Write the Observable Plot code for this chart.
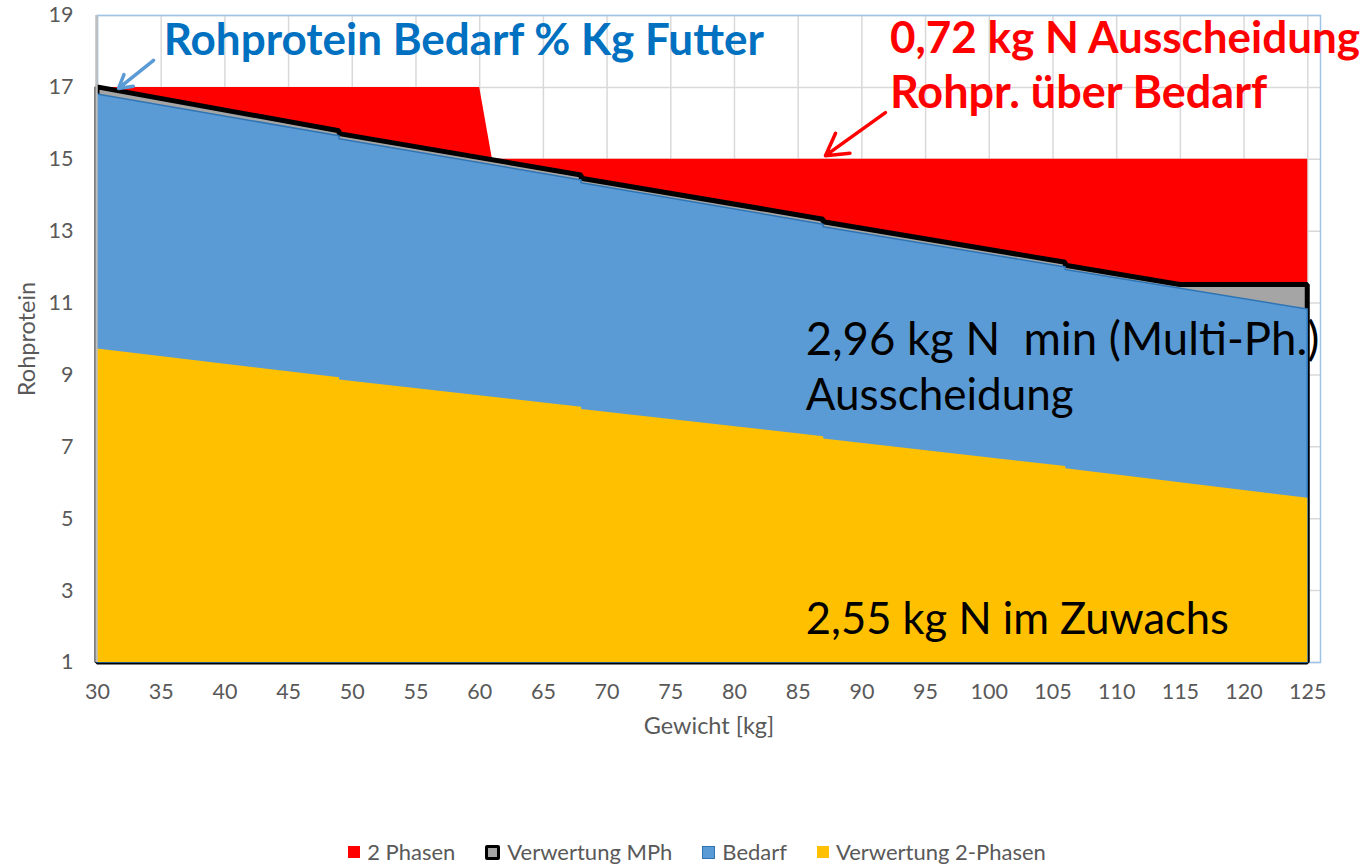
<!DOCTYPE html>
<html>
<head>
<meta charset="utf-8">
<script src="https://cdn.jsdelivr.net/npm/d3@7"></script>
<script src="https://cdn.jsdelivr.net/npm/@observablehq/plot@0.6"></script>
<style>
  body { margin: 0; background: #fff; font-family: Lato, "Open Sans", sans-serif; }
  #wrap { position: relative; width: 1366px; height: 865px; overflow: hidden; }
  #legend { position: absolute; top: 838px; left: 0; width: 1366px; display: flex; justify-content: center; padding-left: 28px; box-sizing: border-box;
            font-family: Lato, sans-serif; font-size: 22px; color: #595959; line-height: 28px; }
  .item { display: flex; align-items: center; margin: 0 15px; }
  .sw { margin-right: 7px; box-sizing: border-box; }
</style>
</head>
<body>
<div id="wrap"><div id="chart"></div><div id="legend"></div></div>
<script>
// ---- data ----
const seriesNames = ["2 Phasen", "Verwertung MPh", "Bedarf", "Verwertung 2-Phasen"];

const phasen2Weight = [30, 60, 61, 125];
const phasen2Value  = [17, 17, 15, 15];

const mphWeight = [30, 49, 49, 68, 68, 87, 87, 106, 106, 115, 125];
const mphValue  = [17.0, 15.78, 15.70, 14.55, 14.46, 13.32, 13.25, 12.12, 12.04, 11.5, 11.5];

const bedarfWeight = [30, 49, 49, 68, 68, 87, 87, 106, 106, 125];
const bedarfValue  = [16.8, 15.64, 15.56, 14.41, 14.33, 13.18, 13.11, 11.99, 11.92, 10.82];

const zuwachsWeight = [30, 49, 49, 68, 68, 87, 87, 106, 106, 125];
const zuwachsValue  = [9.72, 8.92, 8.86, 8.10, 8.04, 7.28, 7.22, 6.45, 6.39, 5.57];

const xTickValues = [30, 35, 40, 45, 50, 55, 60, 65, 70, 75, 80, 85, 90, 95, 100, 105, 110, 115, 120, 125];
const yTickValues = [1, 3, 5, 7, 9, 11, 13, 15, 17, 19];

const xTitle = "Gewicht [kg]";
const yTitle = "Rohprotein";

// annotations (text, weight, value)
const annText   = ["Rohprotein Bedarf % Kg Futter", "0,72 kg N Ausscheidung", "Rohpr. über Bedarf",
                   "2,96 kg N  min (Multi-Ph.)", "Ausscheidung", "2,55 kg N im Zuwachs"];
const annWeight = [35.2, 92.2, 92.2, 85.6, 85.6, 85.6];
const annValue  = [18.3, 18.36, 16.83, 9.96, 8.43, 2.17];

const colors = { red: "#FF0000", gray: "#A5A5A5", black: "#000000", blue: "#5B9BD5", blueLine: "#2E75B6", yellow: "#FFC000", titleBlue: "#0070C0" };

// ---- build tables ----
const toRows = (xs, ys) => xs.map((x, i) => ({x, y: ys[i]}));
const phasen2 = toRows(phasen2Weight, phasen2Value);
const mph = toRows(mphWeight, mphValue);
const bedarf = toRows(bedarfWeight, bedarfValue);
const zuwachs = toRows(zuwachsWeight, zuwachsValue);
const ann = annText.map((t, i) => ({t, x: annWeight[i], y: annValue[i]}));

const chart = Plot.plot({
  width: 1366,
  height: 800,
  marginLeft: 97,
  marginRight: 46,
  marginTop: 15,
  marginBottom: 138,
  x: {domain: [30, 126]},
  y: {domain: [1, 19]},
  style: {fontFamily: "Lato, sans-serif", fontSize: "21px", color: "#595959", overflow: "visible", background: "transparent"},
  marks: [
    Plot.gridX(xTickValues, {stroke: "#D9D9D9", strokeOpacity: 1, strokeWidth: 1.5}),
    Plot.gridY(yTickValues, {stroke: "#D9D9D9", strokeOpacity: 1, strokeWidth: 1.5}),
    Plot.frame({stroke: "#9DC3E6", strokeWidth: 1.5}),
    Plot.areaY(phasen2, {x: "x", y1: 1, y2: "y", fill: colors.red, curve: "linear"}),
    Plot.areaY(mph, {x: "x", y1: 1, y2: "y", fill: colors.gray, stroke: colors.black, strokeWidth: 5, strokeLinejoin: "miter"}),
    Plot.areaY(bedarf, {x: "x", y1: 1, y2: "y", fill: colors.blue, stroke: colors.blueLine, strokeWidth: 1.5}),
    Plot.areaY(zuwachs, {x: "x", y1: 1, y2: "y", fill: colors.yellow}),
    Plot.ruleX([30], {stroke: "#BFBFBF", strokeWidth: 2.5, dx: -1}),
    Plot.axisX(xTickValues, {tickSize: 0, tickPadding: 21, fontSize: 21.5, fill: "#595959", label: null}),
    Plot.axisY(yTickValues, {tickSize: 0, tickPadding: 24, fontSize: 21.5, fill: "#595959", label: null}),
    Plot.text([xTitle], {frameAnchor: "bottom", dy: 71, fontSize: 23.5, fill: "#595959"}),
    Plot.text([yTitle], {frameAnchor: "left", textAnchor: "middle", dx: -70, rotate: -90, fontSize: 23.5, fill: "#595959"}),
    Plot.arrow([0], {x1: () => 34.4, y1: () => 17.75, x2: () => 31.65, y2: () => 16.97, stroke: colors.blue, strokeWidth: 3.5, headLength: 14}),
    Plot.arrow([0], {x1: () => 91.85, y1: () => 16.30, x2: () => 87.14, y2: () => 15.1, stroke: colors.red, strokeWidth: 3.5, headLength: 14}),
    Plot.text(ann.slice(0, 1), {x: "x", y: "y", text: "t", textAnchor: "start", fontSize: 44, fontWeight: "bold", fill: colors.titleBlue}),
    Plot.text(ann.slice(1, 2), {x: "x", y: "y", text: "t", textAnchor: "start", fontSize: 44, fontWeight: "bold", fill: colors.red}),
    Plot.text(ann.slice(2, 3), {x: "x", y: "y", text: "t", textAnchor: "start", fontSize: 45, fontWeight: "bold", fill: colors.red}),
    Plot.text(ann.slice(3, 4), {x: "x", y: "y", text: "t", textAnchor: "start", fontSize: 45.5, fill: "#000"}),
    Plot.text(ann.slice(4, 5), {x: "x", y: "y", text: "t", textAnchor: "start", fontSize: 44, fill: "#000"}),
    Plot.text(ann.slice(5, 6), {x: "x", y: "y", text: "t", textAnchor: "start", fontSize: 43.5, fill: "#000"})
  ]
});
document.getElementById("chart").appendChild(chart);

// legend
const swatches = [
  {bg: colors.red, border: colors.red, size: 12},
  {bg: colors.gray, border: colors.black, bw: 3.5, size: 15},
  {bg: colors.blue, border: colors.blueLine, bw: 1.5, size: 13},
  {bg: colors.yellow, border: colors.yellow, size: 12}
];
const legend = d3.select("#legend");
seriesNames.forEach((name, i) => {
  const it = legend.append("div").attr("class", "item");
  const s = swatches[i];
  it.append("div").attr("class", "sw")
    .style("background", s.bg)
    .style("border", `${s.bw || 0}px solid ${s.border}`)
    .style("width", s.size + "px").style("height", s.size + "px")
    .style("border-radius", i === 1 ? "2px" : "0");
  it.append("span").text(name);
});
</script>
</body>
</html>
